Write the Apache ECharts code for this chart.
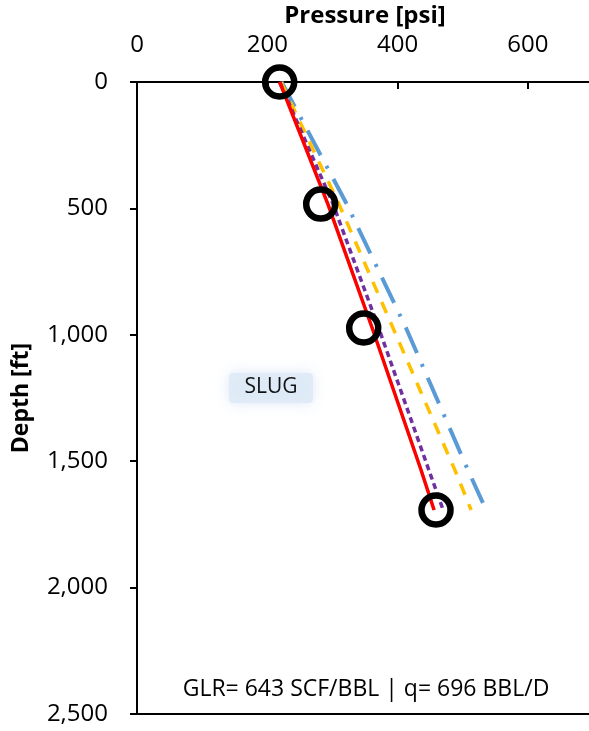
<!DOCTYPE html>
<html><head><meta charset="utf-8">
<script src="https://cdn.jsdelivr.net/npm/echarts@6/dist/echarts.min.js"></script>
<style>html,body{margin:0;padding:0;background:#fff}#c{width:589px;height:731px}</style>
</head><body><div id="c"></div>
<script>
const depths = [0, 483, 973, 1535, 1693];
const redP = [219, 293, 361, 436, 456];
const greenP = [220, 294, 362, 437, 457];
const purpleP = [219, 301, 371, 448, 470];
const yellowP = [221, 310, 393, 488, 513];
const blueDepths = [0, 483, 973, 1535, 1665];
const blueP = [222, 322, 413, 508, 531];
const measP = [219, 282, 348, 459];
const measD = [0, 483, 973, 1693];
const xTicks = [0, 200, 400, 600];
const yTicks = [0, 500, 1000, 1500, 2000, 2500];

const pts = (p, d) => p.map((v, i) => [v, d[i]]);
const font = '"Open Sans", sans-serif';
const chart = echarts.init(document.getElementById('c'), null, {renderer: 'canvas'});
const lineS = (name, p, d, color, width, type, z) => ({
  name, type: 'line', data: pts(p, d), showSymbol: false, symbol: 'none', z,
  lineStyle: {color, width, type}, animation: false
});
chart.setOption({
  animation: false,
  grid: {left: 137, top: 82, width: 456, height: 632, outerBoundsMode: 'none', containLabel: false},
  xAxis: [{
    type: 'value', position: 'top', min: 0, max: 700, interval: 200,
    name: 'Pressure [psi]', nameLocation: 'middle', nameGap: 50,
    nameTextStyle: {fontFamily: font, fontWeight: 'bold', fontSize: 24, color: '#000'},
    axisLine: {show: true, lineStyle: {color: '#000', width: 2}},
    axisTick: {show: true, inside: true, length: 7, lineStyle: {color: '#000', width: 2}},
    axisLabel: {fontFamily: font, fontSize: 24, color: '#000', margin: 25,
      formatter: v => xTicks.includes(v) ? String(v) : ''},
    splitLine: {show: false}
  }, {
    type: 'value', position: 'bottom', min: 0, max: 700,
    axisLine: {show: true, lineStyle: {color: '#000', width: 2}},
    axisTick: {show: false}, axisLabel: {show: false}, splitLine: {show: false}
  }],
  yAxis: {
    type: 'value', inverse: true, min: 0, max: 2500, interval: 500,
    name: 'Depth [ft]', nameLocation: 'middle', nameGap: 104, nameRotate: 90,
    nameTextStyle: {fontFamily: font, fontWeight: 'bold', fontSize: 23, color: '#000'},
    axisLine: {show: true, lineStyle: {color: '#000', width: 2}},
    axisTick: {show: true, inside: false, length: 7, lineStyle: {color: '#000', width: 2}},
    axisLabel: {fontFamily: font, fontSize: 24, color: '#000', margin: 29,
      formatter: v => yTicks.includes(v) ? v.toLocaleString('en-US') : ''},
    splitLine: {show: false}
  },
  graphic: [
    {type: 'rect', left: 229, top: 373, shape: {width: 84, height: 30, r: 4},
      style: {fill: 'rgba(222,234,247,0.85)', shadowBlur: 14, shadowColor: 'rgba(214,228,245,1)'}, z: 1},
    {type: 'text', x: 271, y: 387, style: {text: 'SLUG', font: '21px ' + font, fill: '#111',
      textAlign: 'center', textVerticalAlign: 'middle'}, z: 2},
    {type: 'text', x: 366, y: 689, style: {text: 'GLR= 643 SCF/BBL | q= 696 BBL/D', font: '23px ' + font,
      fill: '#000', textAlign: 'center', textVerticalAlign: 'middle'}, z: 2}
  ],
  series: [
    lineS('blue', blueP, blueDepths, '#5B9BD5', 4, [28, 12, 3, 12], 3),
    lineS('yellow', yellowP, depths, '#FFC000', 3.5, [12, 10], 4),
    lineS('purple', purpleP, depths, '#7030A0', 3.5, [6, 4], 5),
    lineS('green', greenP, depths, '#00B050', 1.5, 'solid', 6),
    lineS('red', redP, depths, '#FF0000', 3.5, 'solid', 7),
    {name: 'meas', type: 'scatter', data: pts(measP, measD), symbol: 'circle', symbolSize: 29, z: 10,
      itemStyle: {color: 'rgba(0,0,0,0)', borderColor: '#000', borderWidth: 6.5, opacity: 1}}
  ]
});
</script></body></html>
